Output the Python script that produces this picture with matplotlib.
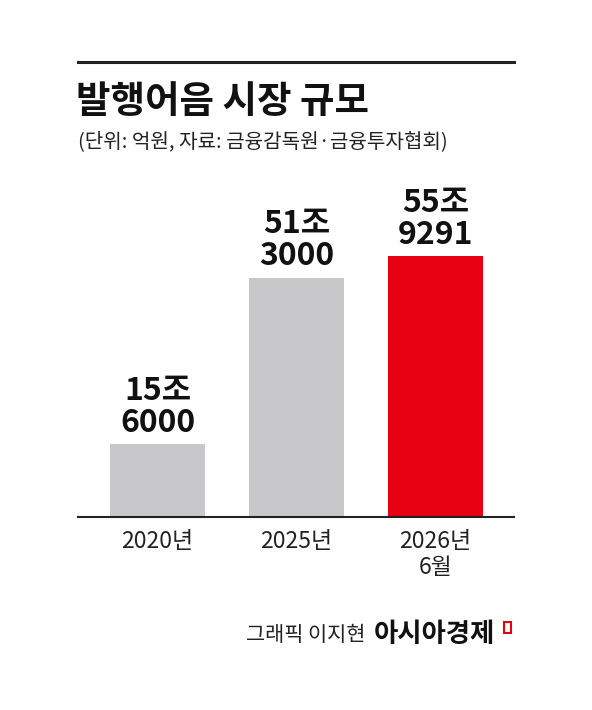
import matplotlib
matplotlib.use("Agg")
import matplotlib.pyplot as plt
from matplotlib.patches import Rectangle

plt.rcParams['font.family'] = ['Noto Sans CJK KR', 'DejaVu Sans']

categories = ["2020년", "2025년", "2026년\n6월"]
values = [156000, 513000, 559291]
value_labels = ["15조\n6000", "51조\n3000", "55조\n9291"]
colors = ["#c8c8ca", "#c8c8ca", "#e60012"]

W, H = 592, 710
fig = plt.figure(figsize=(W/100, H/100), dpi=100)
fig.patch.set_facecolor("white")

def fx(x): return x / W
def fy(y): return 1 - y / H

fig.add_artist(plt.Line2D([fx(78), fx(514)], [fy(62), fy(62)], color="#222", lw=2.2))
fig.text(fx(76), fy(101), "발행어음 시장 규모", fontsize=27, fontweight="bold", va="center", ha="left", color="#111")
fig.text(fx(78), fy(142), "(단위: 억원, 자료: 금융감독원·금융투자협회)", fontsize=14.5, va="center", ha="left", color="#222")

ax = fig.add_axes([fx(78), fy(517), fx(514) - fx(78), (517 - 200) / H])
x = [0, 1, 2]
ax.bar(x, values, width=0.68, color=colors)
ax.set_xlim(-0.572, 2.565)
ax.set_ylim(0, 317 / 0.466 * 1000)
for s in ["top", "right", "left"]:
    ax.spines[s].set_visible(False)
ax.spines["bottom"].set_color("#222")
ax.spines["bottom"].set_linewidth(1.5)
ax.set_yticks([])
ax.set_xticks(x)
ax.set_xticklabels(categories, fontsize=16.5, color="#222", linespacing=1.2)
ax.tick_params(axis="x", length=0, pad=9)
for xi, v, lab in zip(x, values, value_labels):
    ax.annotate(lab, (xi, v), xytext=(0, 4), textcoords="offset points",
                ha="center", va="bottom", fontsize=23, fontweight="bold",
                color="#111", linespacing=1.0)

fig.text(fx(365), fy(635), "그래픽 이지현", fontsize=15, ha="right", va="center", color="#222")
fig.text(fx(374), fy(635), "아시아경제", fontsize=19, fontweight="bold", ha="left", va="center", color="#111")
fig.add_artist(Rectangle((fx(504), fy(633)), fx(7), 11 / H, fill=False, edgecolor="#e60012", lw=1.5))

fig.savefig("out.png", dpi=100, facecolor="white")
